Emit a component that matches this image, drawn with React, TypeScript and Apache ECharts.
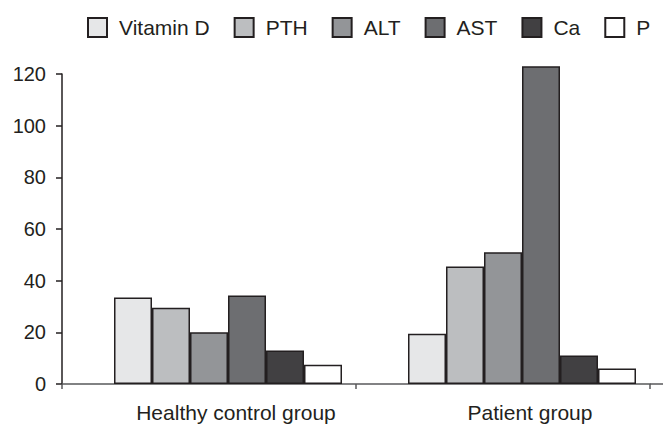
import React, { useEffect, useRef } from "react";
import * as echarts from "echarts";

const categories = ["Healthy control group", "Patient group"];
const seriesNames = ["Vitamin D", "PTH", "ALT", "AST", "Ca", "P"];
const vitaminD = [33.5, 19.5];
const pth = [29.5, 45.5];
const alt = [20, 51];
const ast = [34.3, 123];
const ca = [13, 11];
const p = [7.5, 6];
const yTicks = { min: 0, max: 120, interval: 20 };

const colors = ["#e6e7e8", "#bcbec0", "#939598", "#6d6e71", "#414042", "#ffffff"];
const seriesValues = [vitaminD, pth, alt, ast, ca, p];

const FONT = "'Liberation Sans', Arial, Helvetica, sans-serif";
const INK = "#231f20";

export default function App() {
  const ref = useRef<HTMLDivElement>(null);
  useEffect(() => {
    if (!ref.current) return;
    const chart = echarts.init(ref.current, undefined, { renderer: "svg" });
    const barSeries: any[] = [
      {
        name: "",
        type: "bar",
        barWidth: 38,
        barGap: "0%",
        data: categories.map(() => "-"),
        silent: true,
      },
      ...seriesNames.map((name, i) => ({
        name,
        type: "bar",
        barWidth: 38,
        barGap: "0%",
        clip: false,
        data: seriesValues[i],
        itemStyle: { color: colors[i], borderColor: INK, borderWidth: 1.5 },
      })),
    ];
    chart.setOption({
      animation: false,
      textStyle: { fontFamily: FONT, color: INK },
      legend: {
        data: seriesNames,
        left: 82,
        top: 12,
        itemWidth: 19,
        itemHeight: 19,
        itemGap: 24,
        icon: "rect",
        textStyle: { fontSize: 21, color: INK, fontFamily: FONT, padding: [0, 0, 0, 7] },
      },
      grid: { left: 62, right: 13, top: 74, bottom: 41, containLabel: false },
      xAxis: {
        type: "category",
        data: categories,
        axisLine: { show: true, lineStyle: { color: "#58595b", width: 1.5 } },
        axisTick: { show: true, length: 5, lineStyle: { color: "#58595b", width: 1.5 } },
        axisLabel: {
          fontSize: 21,
          color: INK,
          fontFamily: FONT,
          margin: 18,
          padding: [0, 0, 0, 54],
        },
      },
      yAxis: {
        type: "value",
        min: yTicks.min,
        max: yTicks.max,
        interval: yTicks.interval,
        axisLine: { show: true, lineStyle: { color: INK, width: 1.5 } },
        axisTick: { show: true, length: 6, lineStyle: { color: INK, width: 1.5 } },
        axisLabel: { fontSize: 20, color: INK, fontFamily: FONT, margin: 16 },
        splitLine: { show: false },
      },
      graphic: [
        {
          type: "line",
          shape: { x1: 650, y1: 384, x2: 663, y2: 384 },
          style: { stroke: "#58595b", lineWidth: 1.5 },
        },
      ],
      series: barSeries,
    });
    return () => chart.dispose();
  }, []);
  return (
    <div
      ref={ref}
      style={{ position: "fixed", left: 0, top: 0, width: 663, height: 425, background: "#fff" }}
    />
  );
}
